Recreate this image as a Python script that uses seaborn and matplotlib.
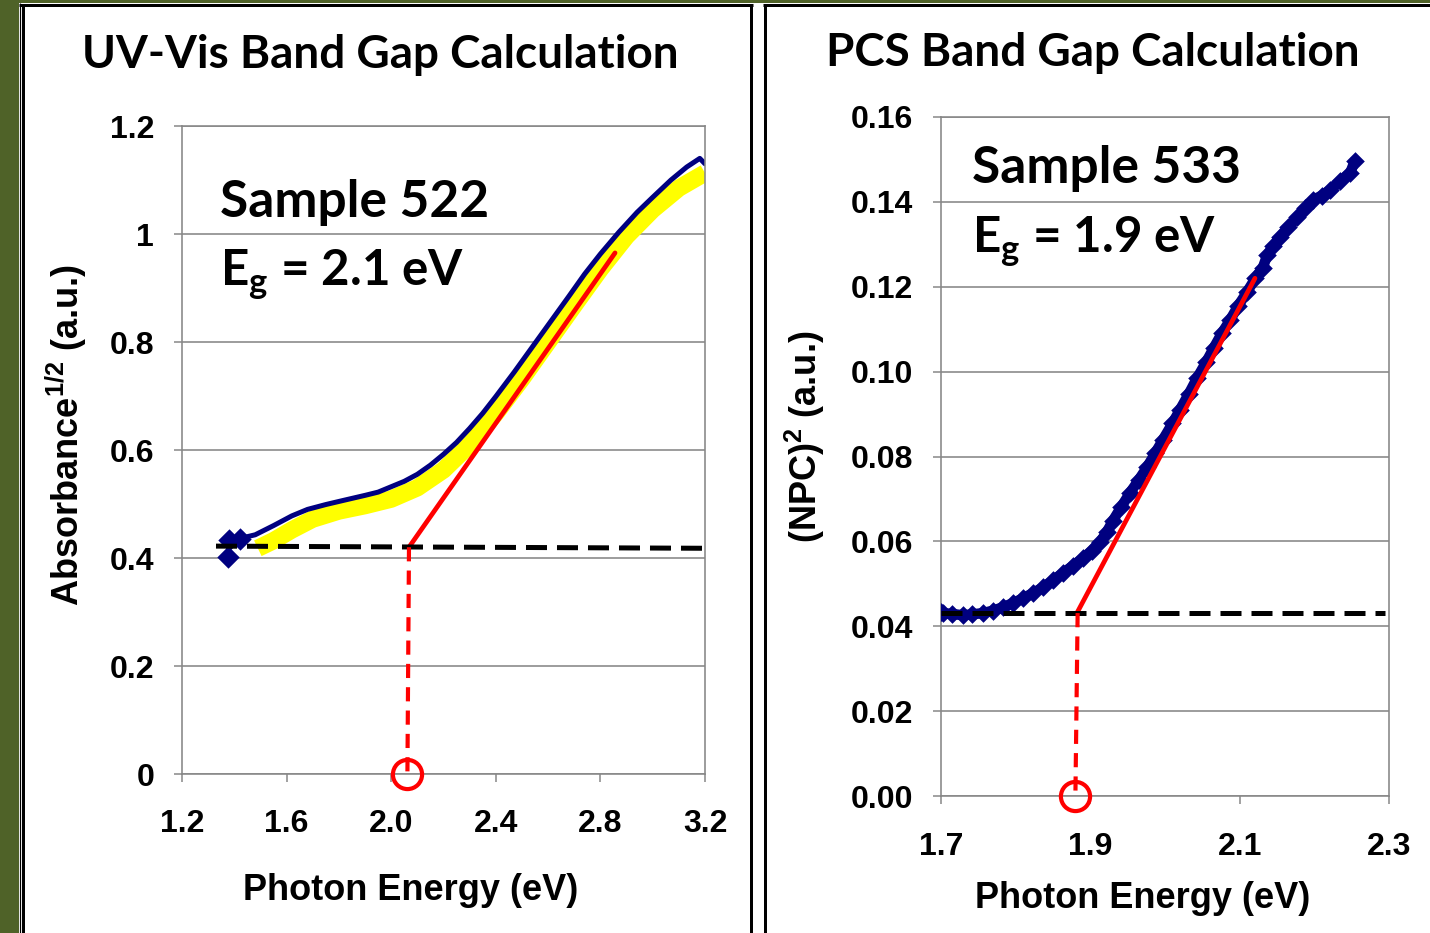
import matplotlib
matplotlib.use("Agg")
import matplotlib.pyplot as plt
import seaborn as sns
from matplotlib.lines import Line2D
from matplotlib.patches import Rectangle

# ---------------- data ----------------
uv_energy = [1.376, 1.38, 1.42, 1.48, 1.55, 1.62, 1.68, 1.75, 1.82, 1.90, 1.95, 2.00,
             2.05, 2.10, 2.15, 2.20, 2.25, 2.30, 2.35, 2.40, 2.47, 2.54, 2.61, 2.68,
             2.74, 2.80, 2.87, 2.94, 3.00, 3.07, 3.13, 3.18, 3.20]
uv_sqrt_abs = [0.402, 0.433, 0.436, 0.443, 0.460, 0.478, 0.490, 0.499, 0.507, 0.516, 0.522, 0.532,
               0.542, 0.555, 0.572, 0.592, 0.614, 0.640, 0.668, 0.699, 0.744, 0.791, 0.838, 0.885,
               0.926, 0.963, 1.003, 1.040, 1.068, 1.100, 1.124, 1.140, 1.130]
uv_marker_energy = [1.376, 1.38, 1.42]
uv_marker_abs = [0.402, 0.433, 0.436]
uv_band_energy = [1.49, 1.55, 1.62, 1.70, 1.80, 1.90, 2.00, 2.10, 2.20, 2.30, 2.40,
                  2.50, 2.60, 2.70, 2.80, 2.90, 3.00, 3.10, 3.20]
uv_band_abs = [0.418, 0.432, 0.452, 0.472, 0.487, 0.497, 0.509, 0.530, 0.563, 0.610, 0.668,
               0.732, 0.800, 0.868, 0.935, 0.996, 1.045, 1.085, 1.113]
uv_fit_energy = [2.068, 2.856]
uv_fit_abs = [0.420, 0.965]
uv_base_energy = [1.33, 3.20]
uv_base_abs = [0.422, 0.418]
uv_gap_energy = [2.068, 2.062]
uv_gap_abs = [0.420, 0.0]

pcs_energy = [1.700, 1.703, 1.715, 1.729, 1.742, 1.756, 1.770, 1.783, 1.797, 1.810,
              1.823, 1.837, 1.850, 1.863, 1.877, 1.890, 1.902, 1.913, 1.922, 1.930,
              1.941, 1.953, 1.965, 1.976, 1.987, 1.997, 2.010, 2.020, 2.032, 2.043,
              2.055, 2.065, 2.076, 2.087, 2.098, 2.110, 2.121, 2.131, 2.137, 2.145,
              2.154, 2.165, 2.177, 2.188, 2.198, 2.210, 2.221, 2.235, 2.248, 2.254]
pcs_npc2 = [0.0433, 0.0431, 0.0429, 0.0426, 0.0428, 0.0431, 0.0437, 0.0445, 0.0455, 0.0466,
            0.0478, 0.0492, 0.0508, 0.0525, 0.0543, 0.0560, 0.0578, 0.0598, 0.0622, 0.0648,
            0.0680, 0.0714, 0.0745, 0.0775, 0.0808, 0.0839, 0.0878, 0.0910, 0.0948, 0.0985,
            0.1022, 0.1055, 0.1090, 0.1121, 0.1155, 0.1188, 0.1220, 0.1245, 0.1275, 0.1295,
            0.1317, 0.1340, 0.1364, 0.1385, 0.1404, 0.1415, 0.1428, 0.1450, 0.1468, 0.1496]
pcs_fit_energy = [1.882, 2.1205]
pcs_fit_npc2 = [0.0431, 0.1220]
pcs_base_energy = [1.70, 2.295]
pcs_base_npc2 = [0.0431, 0.0431]
pcs_gap_energy = [1.883, 1.880]
pcs_gap_npc2 = [0.0431, 0.0]

uv_xticks = [1.2, 1.6, 2.0, 2.4, 2.8, 3.2]
uv_xticklabels = ["1.2", "1.6", "2.0", "2.4", "2.8", "3.2"]
uv_yticks = [0.0, 0.2, 0.4, 0.6, 0.8, 1.0, 1.2]
uv_yticklabels = ["0", "0.2", "0.4", "0.6", "0.8", "1", "1.2"]
pcs_xticks = [1.7, 1.9, 2.1, 2.3]
pcs_xticklabels = ["1.7", "1.9", "2.1", "2.3"]
pcs_yticks = [0.00, 0.02, 0.04, 0.06, 0.08, 0.10, 0.12, 0.14, 0.16]
pcs_yticklabels = ["0.00", "0.02", "0.04", "0.06", "0.08", "0.10", "0.12", "0.14", "0.16"]

titles = ["UV-Vis Band Gap Calculation", "PCS Band Gap Calculation"]
samples = ["Sample 522", "Sample 533"]
gaps = [r"E$_{\mathbf{g}}$ = 2.1 eV", r"E$_{\mathbf{g}}$ = 1.9 eV"]
xlabel = "Photon Energy (eV)"
ylabels = [r"Absorbance$^{\mathrm{1/2}}$ (a.u.)", r"(NPC)$^{\mathrm{2}}$ (a.u.)"]

# ---------------- style ----------------
sns.set_theme(style="white")
plt.rcParams["font.family"] = ["Liberation Sans", "DejaVu Sans"]
plt.rcParams["font.weight"] = "bold"
plt.rcParams["mathtext.fontset"] = "custom"
plt.rcParams["mathtext.rm"] = "Liberation Sans"
plt.rcParams["mathtext.bf"] = "Lato:bold"

W, H = 1430, 933
fig = plt.figure(figsize=(W / 100, H / 100), dpi=100, facecolor="white")

def fx(px):
    return px / W

def fy(py):
    return 1 - py / H

def fline(x0, y0, x1, y1, lw_px, color="black"):
    fig.add_artist(Line2D([fx(x0), fx(x1)], [fy(y0), fy(y1)], transform=fig.transFigure,
                          color=color, lw=lw_px * 0.72, solid_capstyle="butt"))

# background strips and panel borders
fig.add_artist(Rectangle((0, 0), fx(19), 1, transform=fig.transFigure, color="#4f6228", lw=0))
fig.add_artist(Rectangle((0, fy(2.5)), 1, 1 - fy(2.5), transform=fig.transFigure, color="#4f6228", lw=0))
fline(19.5, 3, 19.5, 940, 1.2)
fline(22.5, 4, 22.5, 940, 3)
fline(19, 4.5, 752.5, 4.5, 3)
fline(751, 4, 751, 940, 3)
fline(764.5, 4, 764.5, 940, 3)
fline(763, 4.5, 1440, 4.5, 3)

grid_c = "#878787"

def style_axes(ax, xlim, ylim, xt, xtl, yt, ytl, xpad, ypad):
    ax.set_xlim(*xlim)
    ax.set_ylim(*ylim)
    ax.set_xticks(xt)
    ax.set_xticklabels(xtl)
    ax.set_yticks(yt)
    ax.set_yticklabels(ytl)
    ax.set_facecolor("white")
    ax.yaxis.grid(True, color=grid_c, lw=1.6 * 0.72)
    ax.xaxis.grid(False)
    ax.set_axisbelow(True)
    for s in ax.spines.values():
        s.set_visible(True)
        s.set_color(grid_c)
        s.set_linewidth(1.6 * 0.72)
    ax.tick_params(axis="both", direction="out", length=6, width=1.1, color=grid_c,
                   labelcolor="black", labelsize=23)
    ax.tick_params(axis="x", pad=xpad, bottom=True)
    ax.tick_params(axis="y", pad=ypad, left=True)
    for lab in ax.get_xticklabels() + ax.get_yticklabels():
        lab.set_fontweight("bold")
    ax.set_xlabel("")
    ax.set_ylabel("")

# ---------------- left panel ----------------
axL = fig.add_axes([fx(182), fy(774), fx(705) - fx(182), fy(126) - fy(774)])
sns.lineplot(x=uv_band_energy, y=uv_band_abs, ax=axL, color="#ffff00", lw=12.5,
             sort=False, estimator=None, solid_capstyle="butt")
sns.lineplot(x=uv_energy, y=uv_sqrt_abs, ax=axL, color="#000080", lw=3.6,
             sort=False, estimator=None)
sns.scatterplot(x=uv_marker_energy, y=uv_marker_abs, ax=axL, color="#000080", marker="D",
                s=130, linewidth=0, zorder=3)
sns.lineplot(x=uv_fit_energy, y=uv_fit_abs, ax=axL, color="#ff0000", lw=3.4,
             sort=False, estimator=None, zorder=4)
axL.plot(uv_base_energy, uv_base_abs, color="black", lw=3.6, dashes=(4.2, 2.0), zorder=5)
axL.plot(uv_gap_energy, uv_gap_abs, color="#ff0000", lw=3.0, dashes=(3.4, 2.2), zorder=5)
axL.plot([uv_gap_energy[-1]], [uv_gap_abs[-1]], marker="o", ms=21, mfc="none", mec="#ff0000",
         mew=3.0, clip_on=False, zorder=6)
style_axes(axL, (1.2, 3.2), (0, 1.2), uv_xticks, uv_xticklabels, uv_yticks, uv_yticklabels,
           xpad=19, ypad=14)

# ---------------- right panel ----------------
axR = fig.add_axes([fx(941), fy(796), fx(1389) - fx(941), fy(117) - fy(796)])
sns.lineplot(x=pcs_energy, y=pcs_npc2, ax=axR, color="#000080", lw=7.5,
             sort=False, estimator=None)
sns.scatterplot(x=pcs_energy, y=pcs_npc2, ax=axR, color="#000080", marker="D",
                s=90, linewidth=0, zorder=3)
sns.lineplot(x=pcs_fit_energy, y=pcs_fit_npc2, ax=axR, color="#ff0000", lw=3.4,
             sort=False, estimator=None, zorder=4)
axR.plot(pcs_base_energy, pcs_base_npc2, color="black", lw=3.6, dashes=(4.2, 2.0), zorder=5)
axR.plot(pcs_gap_energy, pcs_gap_npc2, color="#ff0000", lw=3.0, dashes=(3.4, 2.2), zorder=5)
axR.plot([pcs_gap_energy[-1]], [pcs_gap_npc2[-1]], marker="o", ms=21, mfc="none", mec="#ff0000",
         mew=3.0, clip_on=False, zorder=6)
style_axes(axR, (1.7, 2.3), (0, 0.16), pcs_xticks, pcs_xticklabels, pcs_yticks, pcs_yticklabels,
           xpad=20, ypad=14)

# ---------------- texts ----------------
title_font = dict(family=["Lato", "DejaVu Sans"], fontweight="bold", fontsize=33, color="black")
fig.text(fx(380), fy(55), titles[0], ha="center", va="center", **title_font)
fig.text(fx(1093), fy(53), titles[1], ha="center", va="center", **title_font)

ann_font = dict(family=["Lato", "DejaVu Sans"], fontweight="bold", fontsize=37, color="black")
eg_font = dict(family=["Lato", "DejaVu Sans"], fontweight="bold", fontsize=35.5, color="black")
fig.text(fx(220), fy(217), samples[0], ha="left", va="baseline", **ann_font)
fig.text(fx(220), fy(285), gaps[0], ha="left", va="baseline", **eg_font)
fig.text(fx(972), fy(183), samples[1], ha="left", va="baseline", **ann_font)
fig.text(fx(972), fy(252), gaps[1], ha="left", va="baseline", **eg_font)

lab_font = dict(fontweight="bold", fontsize=26, color="black")
fig.text(fx(411), fy(890), xlabel, ha="center", va="center", **lab_font)
fig.text(fx(1143), fy(898), xlabel, ha="center", va="center", **lab_font)
fig.text(fx(66), fy(435), ylabels[0], ha="center", va="center", rotation=90, **lab_font)
fig.text(fx(805), fy(437), ylabels[1], ha="center", va="center", rotation=90, **lab_font)

fig.savefig("out.png", dpi=100, facecolor=fig.get_facecolor())
